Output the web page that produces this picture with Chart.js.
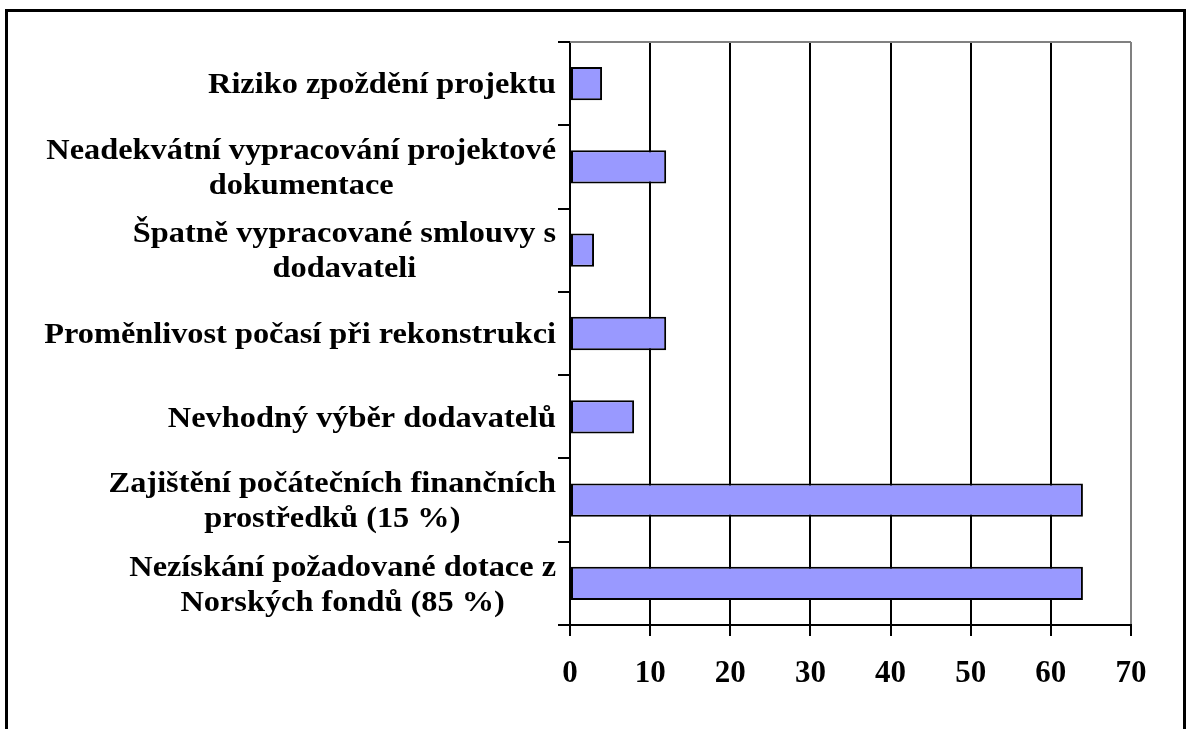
<!DOCTYPE html>
<html>
<head>
<meta charset="utf-8">
<script src="https://cdn.jsdelivr.net/npm/chart.js@4/dist/chart.umd.min.js"></script>
<style>
    html, body { margin: 0; padding: 0; background: #fff; }
    #wrap { width: 1187px; height: 729px; position: relative; }
</style>
</head>
<body>
<div id="wrap"><canvas id="risks"></canvas></div>
<script>
const riskLabels = [
    ['Riziko zpoždění projektu'],
    ['Neadekvátní vypracování projektové', 'dokumentace'],
    ['Špatně vypracované smlouvy s', 'dodavateli'],
    ['Proměnlivost počasí při rekonstrukci'],
    ['Nevhodný výběr dodavatelů'],
    ['Zajištění počátečních finančních', 'prostředků (15 %)'],
    ['Nezískání požadované dotace z', 'Norských fondů (85 %)']
];
const riskValues = [4, 12, 3, 12, 8, 64, 64];
const axisMax = 70;
const axisStep = 10;

const labelFont = 'bold 30px "Liberation Serif", "Times New Roman", serif';
const stretchX = 1.078; // the original text is a bit wider than plain Times

// outer frame, gray top border of plot, centered multi-line category labels
const framePlugin = {
    id: 'frame',
    beforeDraw(chart) {
        const ctx = chart.ctx;
        ctx.save();
        ctx.fillStyle = '#fff';
        ctx.fillRect(0, 0, chart.width, chart.height);
        ctx.strokeStyle = '#000';
        ctx.lineWidth = 3;
        ctx.strokeRect(6.5, 10.5, 1178, 800);
        ctx.restore();
    },
    afterDraw(chart) {
        const ctx = chart.ctx;
        const area = chart.chartArea;
        const yScale = chart.scales.y;
        ctx.save();
        ctx.strokeStyle = '#808080';
        ctx.lineWidth = 2;
        ctx.beginPath();
        ctx.moveTo(area.left, area.top);
        ctx.lineTo(area.right, area.top);
        ctx.stroke();

        ctx.font = labelFont;
        ctx.fillStyle = '#000';
        ctx.textAlign = 'center';
        ctx.textBaseline = 'middle';
        const rightEdge = area.left - 14;
        const lineH = 35;
        riskLabels.forEach((lines, i) => {
            const w = Math.max(...lines.map(l => ctx.measureText(l).width)) * stretchX;
            const cx = rightEdge - w / 2;
            const cy = yScale.getPixelForValue(i) + 2;
            const y0 = cy - (lines.length - 1) * lineH / 2;
            lines.forEach((l, j) => {
                ctx.save();
                ctx.translate(cx, y0 + j * lineH);
                ctx.scale(stretchX, 1);
                ctx.fillText(l, 0, 0);
                ctx.restore();
            });
        });
        ctx.restore();
    }
};

new Chart(document.getElementById('risks'), {
    type: 'bar',
    data: {
        labels: riskLabels,
        datasets: [{
            data: riskValues,
            backgroundColor: '#9999FF',
            borderColor: '#000',
            borderWidth: 2,
            borderSkipped: false,
            categoryPercentage: 1,
            barPercentage: 0.4
        }]
    },
    options: {
        indexAxis: 'y',
        responsive: true,
        maintainAspectRatio: false,
        animation: false,
        layout: { padding: { left: 0, top: 42, right: 56, bottom: 0 } },
        plugins: {
            legend: { display: false },
            tooltip: { enabled: false }
        },
        scales: {
            x: {
                min: 0,
                max: axisMax,
                ticks: {
                    stepSize: axisStep,
                    color: '#000',
                    padding: 19,
                    font: { family: '"Liberation Serif", "Times New Roman", serif', size: 31, weight: 'bold' }
                },
                grid: {
                    color: ctx => (ctx.tick && ctx.tick.value === axisMax) ? '#808080' : '#000',
                    tickColor: '#000',
                    lineWidth: 2,
                    tickLength: 11
                },
                border: { color: '#000', width: 2 },
                afterFit(scale) { scale.height = 104; }
            },
            y: {
                ticks: { display: false },
                grid: {
                    drawOnChartArea: false,
                    offset: true,
                    color: '#000',
                    tickColor: '#000',
                    lineWidth: 2,
                    tickLength: 12
                },
                border: { color: '#000', width: 2 },
                afterFit(scale) { scale.width = 570; }
            }
        }
    },
    plugins: [framePlugin]
});
</script>
</body>
</html>
